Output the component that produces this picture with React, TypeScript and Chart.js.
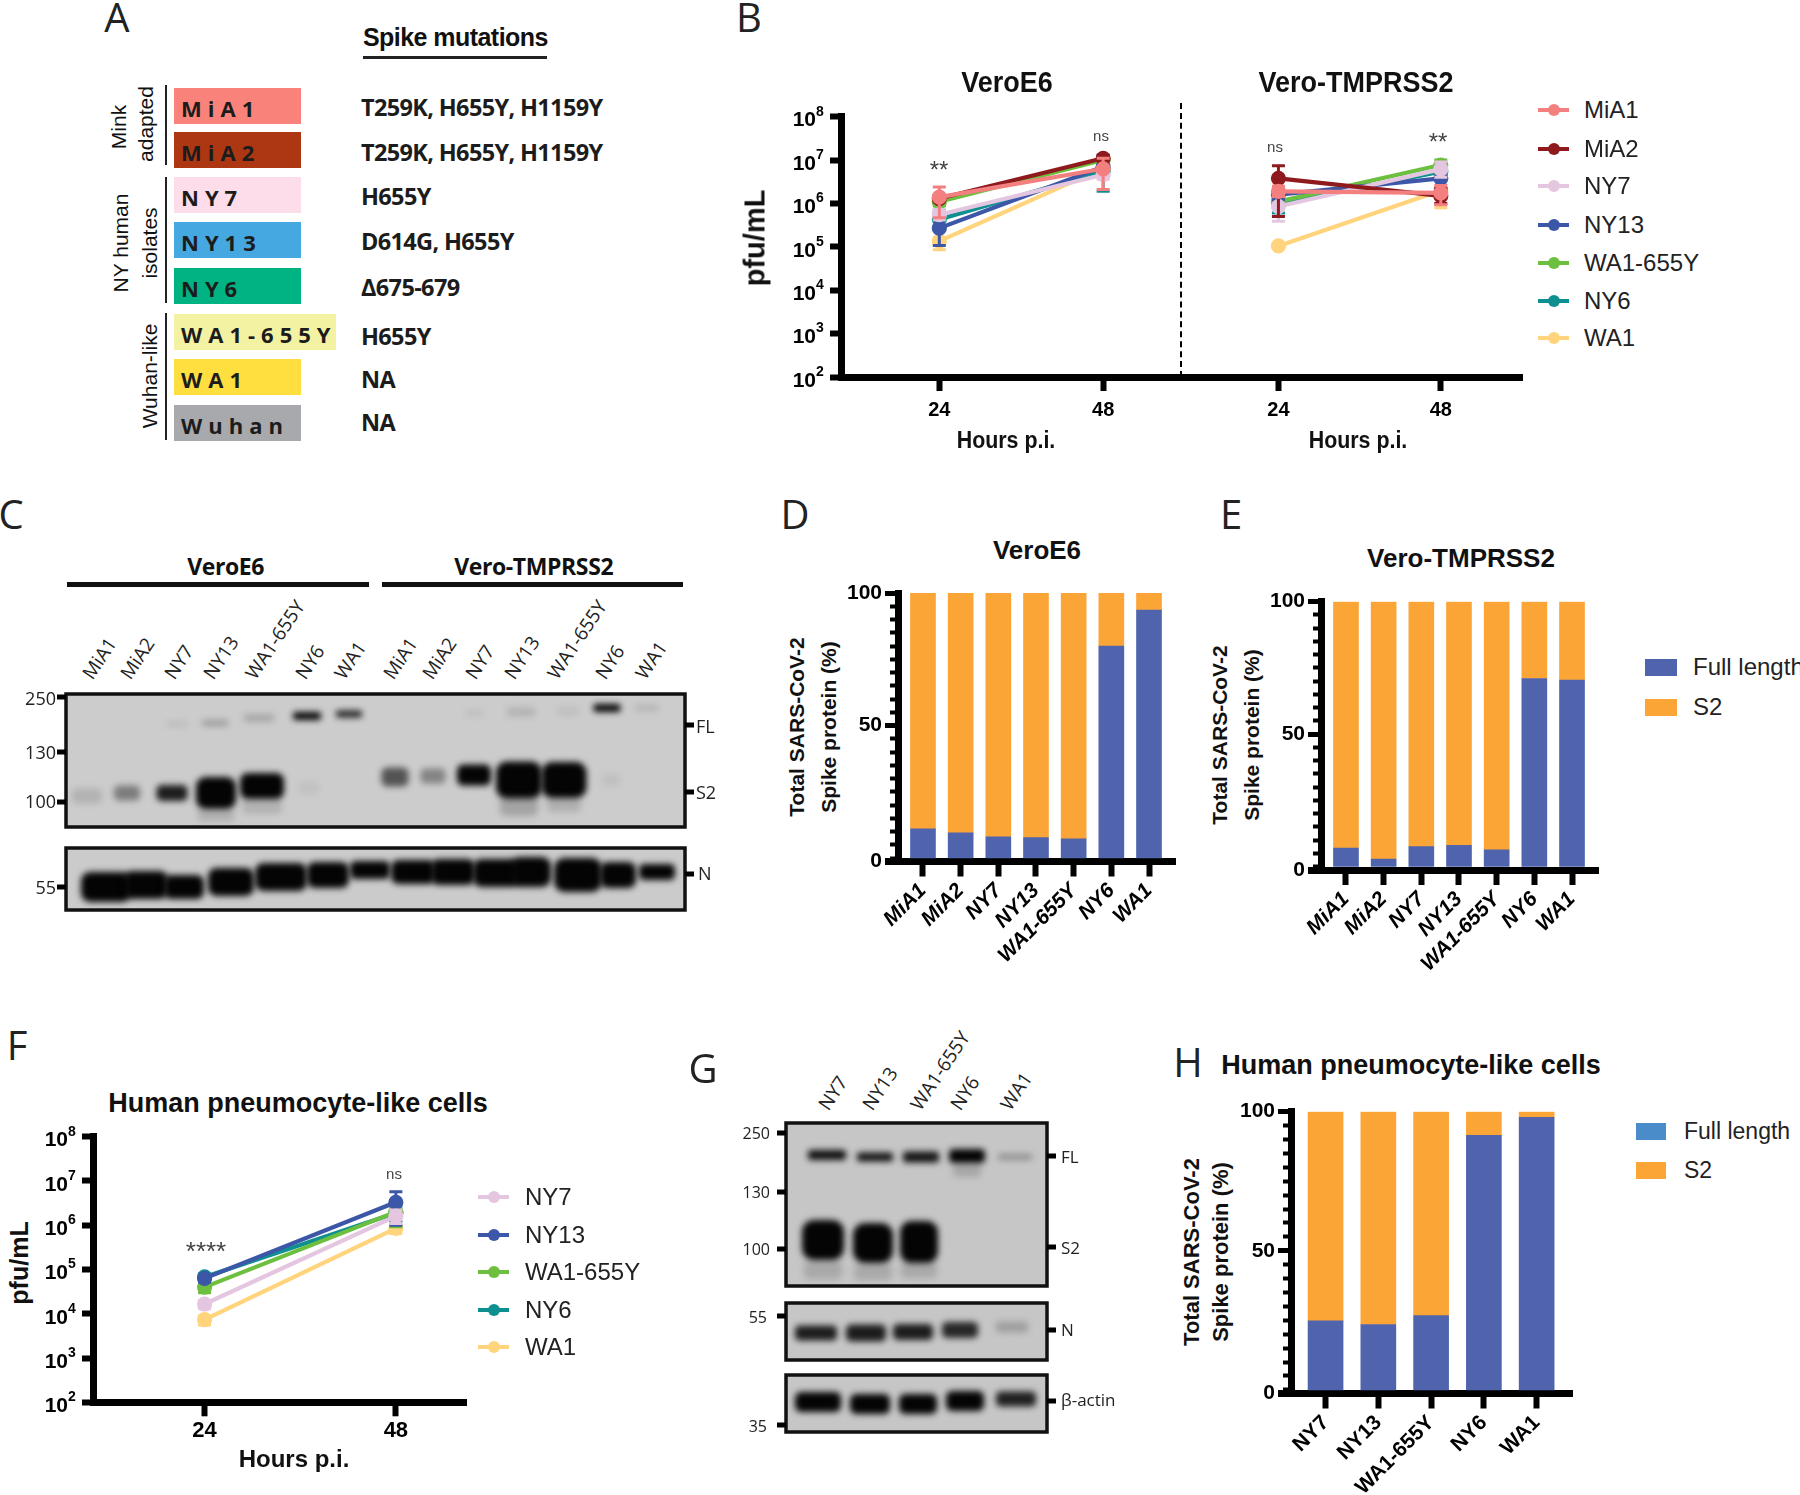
import React, { useEffect, useRef } from "react";
import { Chart, registerables } from "chart.js";
Chart.register(...registerables);

const SANS = '"Liberation Sans", Arial, sans-serif';
const OPEN = '"Open Sans", sans-serif';

// ---------- data ----------
const hours = [24, 48];
const decades = [1e2, 1e3, 1e4, 1e5, 1e6, 1e7, 1e8];
const strains = ["MiA1", "MiA2", "NY7", "NY13", "WA1-655Y", "NY6", "WA1"];
const strainColors = ["#f37f7f", "#8e1a1e", "#e5c6e0", "#3c56a8", "#6cbf3f", "#0f9090", "#ffd47c"];

const veroMean = [[1.4e6, 6.3e6], [1.3e6, 1.1e7], [5.5e5, 4.6e6], [2.7e5, 7e6], [1.1e6, 1e7], [4.3e5, 5.5e6], [1.35e5, 6.5e6]];
const veroLow = [[4.7e5, 2.1e6], [1.1e6, 6e6], [4.2e5, 3.6e6], [1.07e5, 4.3e6], [8.8e5, 8e6], [3e5, 1.9e6], [8.6e4, 5e6]];
const veroHigh = [[2.4e6, 1.1e7], [1.5e6, 1.3e7], [7e5, 6e6], [7e5, 1.3e7], [1.3e6, 1.2e7], [5.2e5, 1e7], [1.6e5, 8e6]];

const tmprssMean = [[1.9e6, 1.75e6], [3.8e6, 1.5e6], [8.5e5, 6.2e6], [1.6e6, 3.8e6], [1.1e6, 7.7e6], [1e6, 5.4e6], [1.05e5, 2e6]];
const tmprssLow = [[1.45e6, 9.3e5], [5e5, 1e6], [3.9e5, 4e6], [1.2e6, 2.2e6], [9e5, 5e6], [6e5, 2.1e6], [1.05e5, 8e5]];
const tmprssHigh = [[2.5e6, 2.6e6], [7.4e6, 2.2e6], [1.5e6, 9e6], [2e6, 6e6], [1.3e6, 1e7], [1.4e6, 8e6], [1.05e5, 2.5e6]];

const pneuStrains = ["NY7", "NY13", "WA1-655Y", "NY6", "WA1"];
const pneuColors = ["#e5c6e0", "#3c56a8", "#6cbf3f", "#0f9090", "#ffd47c"];
const pneuMean = [[1.66e4, 1.6e6], [6.3e4, 3.3e6], [4e4, 2e6], [6.8e4, 1.9e6], [7.4e3, 8.5e5]];
const pneuLow = [[1.3e4, 1.1e6], [5.2e4, 1e6], [3e4, 9.3e5], [5.6e4, 1.2e6], [5.6e3, 6.5e5]];
const pneuHigh = [[2e4, 2.2e6], [7.5e4, 5.7e6], [4.7e4, 3.1e6], [8e4, 2.6e6], [9e3, 1e6]];

const veroFull = [11, 9.5, 8, 7.7, 7.2, 80, 93.6];
const veroS2 = [89, 90.5, 92, 92.3, 92.8, 20, 6.4];
const tmprssFull = [7, 2.8, 7.5, 8, 6.3, 71, 70.4];
const tmprssS2 = [93, 97.2, 92.5, 92, 93.7, 29, 29.6];
const pneuFull = [24.8, 23.5, 26.7, 91.5, 98];
const pneuS2 = [75.2, 76.5, 73.3, 8.5, 2];

const FULL_COLOR = "#5064ae";
const S2_COLOR = "#fba536";

// Panel A table
const variantRows = [
  { name: "MiA1", fill: "#f9837a", mutation: "T259K, H655Y, H1159Y" },
  { name: "MiA2", fill: "#ae3713", mutation: "T259K, H655Y, H1159Y" },
  { name: "NY7", fill: "#fcdde9", mutation: "H655Y" },
  { name: "NY13", fill: "#45a8e0", mutation: "D614G, H655Y" },
  { name: "NY6", fill: "#00b383", mutation: "Δ675-679" },
  { name: "WA1-655Y", fill: "#f2f2a2", mutation: "H655Y" },
  { name: "WA1", fill: "#ffdf3f", mutation: "NA" },
  { name: "Wuhan", fill: "#a8a9ad", mutation: "NA" },
];
const rowTop = [88, 132, 177, 222, 268, 314, 359, 405];
const mutationY = [108, 153, 197, 242, 288, 337, 380, 423];

// Western blots: [x, y, width, height, density] in gel coordinates
type Band = number[];
const gelCSpike: Band[] = [
  [87, 796, 30, 15, 0.13], [127, 793, 26, 15, 0.4], [172, 793, 31, 16, 0.88], [216, 793, 40, 32, 1], [262, 786, 44, 26, 1], [309, 788, 20, 12, 0.05],
  [216, 815, 36, 12, 0.14], [262, 806, 40, 16, 0.12], [395, 777, 27, 19, 0.6], [433, 776, 25, 15, 0.36], [474, 775, 34, 21, 1],
  [519, 780, 46, 37, 1], [564, 780, 45, 36, 1], [519, 806, 38, 20, 0.2], [564, 804, 34, 16, 0.14], [611, 780, 18, 12, 0.06],
  [177, 724, 20, 5, 0.09], [215, 723, 26, 6, 0.24], [259, 718, 30, 7, 0.2], [307, 716, 28, 8, 1], [349, 714, 26, 7, 0.85],
  [474, 713, 18, 7, 0.06], [521, 712, 28, 9, 0.12], [568, 711, 22, 9, 0.06], [607, 708, 27, 8, 1], [647, 708, 24, 7, 0.1],
];
const gelCN: Band[] = [
  [106, 887, 50, 30, 1], [146, 885, 44, 28, 1], [184, 887, 40, 24, 1], [231, 882, 46, 28, 1], [281, 877, 52, 28, 1], [328, 875, 42, 26, 1], [370, 870, 40, 18, 1],
  [413, 872, 44, 24, 1], [453, 872, 44, 26, 1], [496, 873, 46, 28, 1], [531, 872, 40, 30, 1], [578, 875, 48, 34, 1], [618, 875, 36, 26, 1], [657, 872, 36, 16, 1],
];
const gelGSpike: Band[] = [
  [827, 1155, 38, 10, 0.95], [875, 1157, 36, 9, 0.92], [921, 1157, 36, 11, 0.92], [967, 1156, 36, 14, 1], [1015, 1157, 34, 6, 0.28],
  [967, 1170, 28, 14, 0.16], [823, 1240, 42, 40, 1], [873, 1243, 40, 40, 1], [919, 1242, 38, 42, 1],
  [823, 1270, 38, 18, 0.15], [873, 1272, 38, 16, 0.15], [919, 1270, 36, 16, 0.15],
];
const gelGN: Band[] = [
  [816, 1333, 42, 15, 0.88], [866, 1333, 40, 17, 0.88], [913, 1332, 40, 16, 0.88], [960, 1330, 36, 16, 0.82], [1012, 1327, 32, 11, 0.2],
];
const gelGActin: Band[] = [
  [818, 1402, 46, 20, 1], [870, 1404, 40, 20, 1], [918, 1404, 38, 20, 1], [965, 1401, 38, 20, 1], [1016, 1399, 40, 15, 0.85],
];

// ---------- plugins ----------
const errorBars = {
  id: "errorBars",
  beforeDatasetDraw(chart: any, args: any) {
    const ds = chart.data.datasets[args.index];
    if (!ds.errLow) return;
    const { x, y } = chart.scales;
    const ctx = chart.ctx;
    ctx.save();
    ctx.strokeStyle = ds.borderColor;
    ctx.lineWidth = 3;
    ds.data.forEach((p: any, i: number) => {
      const px = x.getPixelForValue(p.x);
      const lo = y.getPixelForValue(ds.errLow[i]);
      const hi = y.getPixelForValue(ds.errHigh[i]);
      ctx.beginPath();
      ctx.moveTo(px, lo); ctx.lineTo(px, hi);
      ctx.moveTo(px - 6.5, lo); ctx.lineTo(px + 6.5, lo);
      ctx.moveTo(px - 6.5, hi); ctx.lineTo(px + 6.5, hi);
      ctx.stroke();
    });
    ctx.restore();
  },
};

const powerLabels = {
  id: "powerLabels",
  afterDraw(chart: any) {
    const y = chart.scales.y;
    if (!y.options.display) return;
    const ctx = chart.ctx;
    ctx.save();
    ctx.fillStyle = "#000";
    decades.forEach((v) => {
      const py = y.getPixelForValue(v);
      const right = y.right - 25;
      ctx.textBaseline = "middle";
      ctx.textAlign = "right";
      ctx.font = `bold 21px ${SANS}`;
      ctx.fillText("10", right, py + 4);
      ctx.textAlign = "left";
      ctx.font = `bold 14px ${SANS}`;
      ctx.fillText(String(Math.round(Math.log10(v))), right, py - 5);
    });
    ctx.restore();
  },
};

const gelPlugin = {
  id: "gel",
  beforeDatasetsDraw(chart: any) {
    const { x, y } = chart.scales;
    const ctx = chart.ctx;
    chart.data.datasets.forEach((ds: any) => {
      const [fx0, fy0, fx1, fy1] = ds.frame.map((v: number, i: number) => (i % 2 ? y : x).getPixelForValue(v));
      ctx.save();
      ctx.fillStyle = ds.gelColor;
      ctx.fillRect(fx0, fy0, fx1 - fx0, fy1 - fy0);
      ctx.beginPath();
      ctx.rect(fx0, fy0, fx1 - fx0, fy1 - fy0);
      ctx.clip();
      ctx.filter = "blur(3.4px)";
      ds.data.forEach((b: any) => {
        const cx = x.getPixelForValue(b.x);
        const cy = y.getPixelForValue(b.y);
        const w = x.getPixelForValue(b.x + b.w) - cx;
        const h = y.getPixelForValue(b.y + b.h) - cy;
        ctx.fillStyle = `rgba(4,4,4,${b.a})`;
        ctx.beginPath();
        ctx.roundRect(cx - w / 2, cy - h / 2, w, h, Math.min(w, h) * 0.3);
        ctx.fill();
      });
      ctx.restore();
      ctx.save();
      ctx.strokeStyle = "#111";
      ctx.lineWidth = 3.5;
      ctx.strokeRect(fx0, fy0, fx1 - fx0, fy1 - fy0);
      ctx.fillStyle = "#000";
      ds.ticks.forEach(([side, v]: number[]) => {
        const ty = y.getPixelForValue(v);
        if (side < 0) ctx.fillRect(fx0 - 9, ty - 2.5, 9, 5);
        else ctx.fillRect(fx1, ty - 2.5, 9, 5);
      });
      ctx.restore();
    });
  },
};

// ---------- chart configs ----------
type Box = { l: number; t: number; w: number; h: number };
type Area = { left: number; top: number; right: number; bottom: number };

const sideGap = (b: Box, a: Area) => ({ left: a.left - b.l, top: a.top - b.t, right: b.l + b.w - a.right, bottom: b.t + b.h - a.bottom });
const fixSize = (s: any, prop: "width" | "height", v: number) => { s[prop] = v; s.paddingLeft = s.paddingRight = s.paddingTop = s.paddingBottom = 0; };

function lineConfig(box: Box, area: Area, xMin: number, xMax: number, names: string[], colors: string[], mean: number[][], low: number[][], high: number[][], showY: boolean, tickFont: number, labelGap: number): any {
  const gap = sideGap(box, area);
  return {
    type: "line",
    data: {
      datasets: names.map((n, i) => ({
        label: n,
        data: mean[i].map((v, j) => ({ x: hours[j], y: v })),
        errLow: low[i],
        errHigh: high[i],
        borderColor: colors[i],
        backgroundColor: colors[i],
        borderWidth: 4.2,
        pointRadius: 5.5,
        pointHoverRadius: 5.5,
        tension: 0,
        clip: false,
      })),
    },
    plugins: [errorBars, powerLabels],
    options: {
      animation: false,
      responsive: false,
      layout: { autoPadding: false, padding: { left: showY ? 0 : gap.left, top: gap.top, right: gap.right, bottom: 0 } },
      plugins: { legend: { display: false }, title: { display: false }, tooltip: { enabled: false } },
      scales: {
        x: {
          type: "linear", min: xMin, max: xMax,
          afterBuildTicks: (s: any) => { s.ticks = hours.map((v) => ({ value: v })); },
          afterFit: (s: any) => fixSize(s, "height", gap.bottom),
          grid: { drawOnChartArea: false, tickLength: 14, tickWidth: 6, tickColor: "#000" },
          border: { display: true, width: 7, color: "#000" },
          ticks: { color: "#000", padding: labelGap, font: { family: SANS, size: tickFont, weight: "bold" }, autoSkip: false, maxRotation: 0 },
        },
        y: {
          type: "logarithmic", min: 1e2, max: 1e8, display: showY,
          afterBuildTicks: (s: any) => { s.ticks = decades.map((v) => ({ value: v })); },
          afterFit: (s: any) => fixSize(s, "width", gap.left),
          grid: { drawOnChartArea: false, tickLength: 11, tickWidth: 6, tickColor: "#000" },
          border: { display: true, width: 7, color: "#000" },
          ticks: { callback: () => "", padding: 0 },
        },
      },
    },
  };
}

const BAR_FLOOR = -1.32;
const minorSteps = Array.from({ length: 21 }, (_, i) => i * 5);

function barConfig(box: Box, area: Area, xMin: number, xMax: number, cats: string[], full: number[], s2: number[], thickness: number, italic: boolean): any {
  const gap = sideGap(box, area);
  return {
    type: "bar",
    data: {
      datasets: [
        { label: "Full length", data: full.map((v, i) => ({ x: i, y: v })), backgroundColor: FULL_COLOR, barThickness: thickness, stack: "a" },
        { label: "S2", data: s2.map((v, i) => ({ x: i, y: v })), backgroundColor: S2_COLOR, barThickness: thickness, stack: "a" },
      ],
    },
    options: {
      animation: false,
      responsive: false,
      layout: { autoPadding: false, padding: { left: 0, top: gap.top, right: gap.right, bottom: 0 } },
      plugins: { legend: { display: false }, title: { display: false }, tooltip: { enabled: false } },
      scales: {
        x: {
          type: "linear", stacked: true, min: xMin, max: xMax, offset: false,
          afterBuildTicks: (s: any) => { s.ticks = cats.map((_, i) => ({ value: i })); },
          afterFit: (s: any) => fixSize(s, "height", gap.bottom),
          grid: { offset: false, drawOnChartArea: false, tickLength: 15, tickWidth: 6, tickColor: "#000" },
          border: { display: true, width: 7, color: "#000" },
          ticks: {
            callback: (v: number) => cats[v], color: "#000", padding: 2, autoSkip: false, minRotation: 45, maxRotation: 45,
            font: { family: SANS, size: 21, weight: "bold", style: italic ? "italic" : "normal" },
          },
        },
        y: {
          type: "linear", stacked: true, min: BAR_FLOOR, max: 100, weight: 0,
          afterBuildTicks: (s: any) => { s.ticks = [BAR_FLOOR, 50, 100].map((v) => ({ value: v })); },
          afterFit: (s: any) => fixSize(s, "width", gap.left),
          grid: { drawOnChartArea: false, tickLength: 13, tickWidth: (c: any) => (c.index === 0 ? 7 : 5), tickColor: "#000" },
          border: { display: true, width: 7, color: "#000" },
          ticks: {
            callback: (_: number, i: number) => ["0", "50", "100"][i], color: "#000", padding: 3,
            font: { family: SANS, size: 21, weight: "bold" },
          },
        },
        yMinor: {
          type: "linear", min: BAR_FLOOR, max: 100, position: "left", weight: -1,
          afterBuildTicks: (s: any) => { s.ticks = minorSteps.map((v) => ({ value: v })); },
          afterFit: (s: any) => fixSize(s, "width", 0),
          grid: { drawOnChartArea: false, tickLength: 8, tickWidth: 4, tickColor: "#000" },
          border: { display: false },
          ticks: { display: false },
        },
      },
    },
  };
}

function gelConfig(box: Box, gels: { bands: Band[]; frame: number[]; color: string; ticks: number[][] }[]): any {
  return {
    type: "scatter",
    data: {
      datasets: gels.map((g) => ({
        data: g.bands.map(([x, y, w, h, a]) => ({ x, y, w, h, a })),
        frame: g.frame, gelColor: g.color, ticks: g.ticks, pointRadius: 0,
      })),
    },
    plugins: [gelPlugin],
    options: {
      animation: false,
      responsive: false,
      parsing: false,
      layout: { autoPadding: false },
      plugins: { legend: { display: false }, tooltip: { enabled: false } },
      scales: {
        x: { type: "linear", display: false, min: box.l, max: box.l + box.w },
        y: { type: "linear", display: false, min: box.t, max: box.t + box.h, reverse: true },
      },
    },
  };
}

// ---------- components ----------
function ChartBox({ box, config }: { box: Box; config: () => any }) {
  const ref = useRef<HTMLCanvasElement>(null);
  useEffect(() => {
    const c = new Chart(ref.current as HTMLCanvasElement, config());
    return () => c.destroy();
  }, []);
  return <canvas ref={ref} width={box.w} height={box.h} style={{ position: "absolute", left: box.l, top: box.t, width: box.w, height: box.h, display: "block" }} />;
}

function T({ x, y, s, w = 400, f = SANS, r = 0, a = "c", c = "#111", ls, sx = 1, it, children }: any) {
  const shift = a === "c" ? "translate(-50%,-50%)" : a === "r" ? "translate(-100%,-50%)" : "translate(0,-50%)";
  return (
    <div style={{
      position: "absolute", left: x, top: y, fontSize: s, fontWeight: w, fontFamily: f, color: c, letterSpacing: ls, fontStyle: it ? "italic" : "normal",
      lineHeight: 1, whiteSpace: "nowrap", transform: `${shift} rotate(${r}deg) scaleX(${sx})`, transformOrigin: a === "l" ? "0 50%" : "50% 50%",
    }}>{children}</div>
  );
}

function Rect({ x, y, w, h, c }: any) {
  return <div style={{ position: "absolute", left: x, top: y, width: w, height: h, background: c }} />;
}

function LegendLine({ x, y, c, name, s = 24, tx = 46 }: any) {
  return (
    <>
      <Rect x={x} y={y - 2} w={31} h={4} c={c} />
      <div style={{ position: "absolute", left: x + 9.5, top: y - 6, width: 12, height: 12, borderRadius: 6, background: c }} />
      <T x={x + tx} y={y} s={s} a="l" c="#222">{name}</T>
    </>
  );
}

const PanelLetter = ({ x, y, children }: any) => <T x={x} y={y} s={40} f={OPEN} c="#222">{children}</T>;

const veroBox = { l: 740, t: 90, w: 441, h: 340 };
const veroArea = { left: 841, top: 116.7, right: 1181, bottom: 377 };
const tmpBox = { l: 1181, t: 90, w: 345, h: 340 };
const tmpArea = { left: 1181, top: 116.7, right: 1522, bottom: 377 };
const pneuBox = { l: 20, t: 1120, w: 450, h: 330 };
const pneuArea = { left: 93, top: 1136.7, right: 466, bottom: 1402.3 };
const dBox = { l: 840, t: 580, w: 340, h: 400 };
const dArea = { left: 898, top: 593, right: 1175, bottom: 861.5 };
const eBox = { l: 1263, t: 590, w: 340, h: 400 };
const eArea = { left: 1321, top: 601.7, right: 1598, bottom: 870 };
const hBox = { l: 1230, t: 1100, w: 350, h: 395 };
const hArea = { left: 1291, top: 1111.7, right: 1572, bottom: 1393.5 };
const cBox = { l: 40, t: 685, w: 670, h: 235 };
const gBox = { l: 765, t: 1115, w: 300, h: 325 };

const cLanes = [
  [87, "MiA1"], [125, "MiA2"], [169, "NY7"], [208, "NY13"], [250, "WA1-655Y"], [300, "NY6"], [339, "WA1"],
  [388, "MiA1"], [427, "MiA2"], [470, "NY7"], [509, "NY13"], [552, "WA1-655Y"], [600, "NY6"], [640, "WA1"],
];
const gLanes = [[823, "NY7"], [867, "NY13"], [915, "WA1-655Y"], [955, "NY6"], [1005, "WA1"]];

export default function App() {
  return (
    <div style={{ position: "absolute", left: 0, top: 0, width: 1800, height: 1495, background: "#fff", overflow: "hidden" }}>
      <style>{`html,body{margin:0;background:#fff}`}</style>

      {/* A */}
      <PanelLetter x={117} y={17}>A</PanelLetter>
      <T x={363} y={37} s={25} w={700} a="l" ls="-0.55px">Spike mutations</T>
      <Rect x={363} y={55.5} w={184} h={3} c="#222" />
      {variantRows.map((row, i) => (
        <React.Fragment key={row.name}>
          <Rect x={174} y={rowTop[i]} w={row.name === "WA1-655Y" ? 162 : 127} h={36} c={row.fill} />
          <T x={181} y={rowTop[i] + 20} s={22} w={700} f={OPEN} a="l" ls="6px" c="#1c1c1c">{row.name}</T>
          <T x={361} y={mutationY[i]} s={23.5} w={700} f={OPEN} a="l" ls="-0.65px" c="#1c1c1c">{row.mutation}</T>
        </React.Fragment>
      ))}
      <Rect x={164.5} y={85} w={2.5} h={80} c="#222" />
      <Rect x={164.5} y={177} w={2.5} h={126} c="#222" />
      <Rect x={164.5} y={313} w={2.5} h={127} c="#222" />
      <T x={118} y={127} s={21} r={-90}>Mink</T>
      <T x={145} y={124} s={21} r={-90}>adapted</T>
      <T x={120} y={243} s={21} r={-90}>NY human</T>
      <T x={149} y={243} s={21} r={-90}>isolates</T>
      <T x={149} y={376} s={21} r={-90}>Wuhan-like</T>

      {/* B */}
      <PanelLetter x={749} y={17}>B</PanelLetter>
      <ChartBox box={tmpBox} config={() => lineConfig(tmpBox, tmpArea, 9.6, 60, strains, strainColors, tmprssMean, tmprssLow, tmprssHigh, false, 20, 7)} />
      <ChartBox box={veroBox} config={() => lineConfig(veroBox, veroArea, 9.6, 59.4, strains, strainColors, veroMean, veroLow, veroHigh, true, 20, 7)} />
      <div style={{ position: "absolute", left: 1179.5, top: 103, height: 274, width: 0, borderLeft: "2.5px dashed #000" }} />
      <T x={1007} y={82} s={29} w={700} sx={0.93}>VeroE6</T>
      <T x={1356} y={82} s={29} w={700} sx={0.93}>Vero-TMPRSS2</T>
      <T x={755} y={238} s={29} w={700} r={-90}>pfu/mL</T>
      <T x={1006} y={440} s={23} w={700} sx={0.93}>Hours p.i.</T>
      <T x={1358} y={440} s={23} w={700} sx={0.93}>Hours p.i.</T>
      <T x={939} y={170} s={24} c="#444">**</T>
      <T x={1101} y={135} s={15} c="#444">ns</T>
      <T x={1275} y={146} s={15} c="#444">ns</T>
      <T x={1438} y={142} s={24} c="#444">**</T>
      {strains.map((n, i) => (
        <LegendLine key={n} x={1538} y={[110, 149, 186, 225, 263, 301, 338][i]} c={strainColors[i]} name={n} />
      ))}

      {/* C */}
      <PanelLetter x={11} y={514}>C</PanelLetter>
      <T x={225.6} y={566} s={23} w={700} f={OPEN} ls="-0.4px">VeroE6</T>
      <T x={533.7} y={566} s={23} w={700} f={OPEN} ls="-0.4px">Vero-TMPRSS2</T>
      <Rect x={67} y={581.5} w={302} h={5} c="#111" />
      <Rect x={382} y={581.5} w={301} h={5} c="#111" />
      {cLanes.map(([x, n], i) => (
        <T key={i} x={(x as number)} y={677} s={19} f={OPEN} a="l" r={-56} c="#222">{n}</T>
      ))}
      <ChartBox box={cBox} config={() => gelConfig(cBox, [
        { bands: gelCSpike, frame: [66, 694, 685, 827], color: "#cccccc", ticks: [[-1, 697], [-1, 752], [-1, 802], [1, 725], [1, 792]] },
        { bands: gelCN, frame: [66, 848, 685, 910], color: "#cbcbcb", ticks: [[-1, 887], [1, 874]] },
      ])} />
      <T x={56} y={698} s={18} f={OPEN} a="r" c="#222">250</T>
      <T x={56} y={752} s={18} f={OPEN} a="r" c="#222">130</T>
      <T x={56} y={801} s={18} f={OPEN} a="r" c="#222">100</T>
      <T x={56} y={887} s={18} f={OPEN} a="r" c="#222">55</T>
      <T x={696} y={726} s={18} f={OPEN} a="l" c="#222">FL</T>
      <T x={696} y={792} s={18} f={OPEN} a="l" c="#222">S2</T>
      <T x={698} y={873} s={18} f={OPEN} a="l" c="#222">N</T>

      {/* D */}
      <PanelLetter x={795} y={514}>D</PanelLetter>
      <T x={1037} y={550} s={26} w={700}>VeroE6</T>
      <T x={796} y={727} s={21} w={700} r={-90}>Total SARS-CoV-2</T>
      <T x={828} y={727} s={21} w={700} r={-90}>Spike protein (%)</T>
      <ChartBox box={dBox} config={() => barConfig(dBox, dArea, -0.663, 6.69, strains, veroFull, veroS2, 25, true)} />

      {/* E */}
      <PanelLetter x={1231} y={514}>E</PanelLetter>
      <T x={1461} y={558} s={26} w={700}>Vero-TMPRSS2</T>
      <T x={1219} y={735} s={21} w={700} r={-90}>Total SARS-CoV-2</T>
      <T x={1251} y={735} s={21} w={700} r={-90}>Spike protein (%)</T>
      <ChartBox box={eBox} config={() => barConfig(eBox, eArea, -0.663, 6.69, strains, tmprssFull, tmprssS2, 25, true)} />
      <Rect x={1645} y={659} w={32} h={17} c={FULL_COLOR} />
      <T x={1693} y={667} s={24} a="l" c="#222">Full length</T>
      <Rect x={1645} y={699} w={32} h={17} c={S2_COLOR} />
      <T x={1693} y={707} s={24} a="l" c="#222">S2</T>

      {/* F */}
      <PanelLetter x={17} y={1045}>F</PanelLetter>
      <T x={298} y={1103} s={27} w={700}>Human pneumocyte-like cells</T>
      <T x={19} y={1263} s={25} w={700} r={-90}>pfu/mL</T>
      <ChartBox box={pneuBox} config={() => lineConfig(pneuBox, pneuArea, 10, 56.8, pneuStrains, pneuColors, pneuMean, pneuLow, pneuHigh, true, 22, 1)} />
      <T x={294} y={1459} s={24} w={700}>Hours p.i.</T>
      <T x={206} y={1251} s={26} c="#444">****</T>
      <T x={394} y={1173} s={15} c="#444">ns</T>
      {pneuStrains.map((n, i) => (
        <LegendLine key={n} x={478} y={[1197, 1235, 1272, 1310, 1347][i]} c={pneuColors[i]} name={n} tx={47} />
      ))}

      {/* G */}
      <PanelLetter x={703} y={1068}>G</PanelLetter>
      {gLanes.map(([x, n], i) => (
        <T key={i} x={x} y={1108} s={19} f={OPEN} a="l" r={-56} c="#222">{n}</T>
      ))}
      <ChartBox box={gBox} config={() => gelConfig(gBox, [
        { bands: gelGSpike, frame: [786, 1123, 1047, 1286], color: "#c6c6c6", ticks: [[-1, 1133], [-1, 1192], [-1, 1249], [1, 1156], [1, 1247]] },
        { bands: gelGN, frame: [786, 1303, 1047, 1360], color: "#c6c6c6", ticks: [[-1, 1316], [1, 1330]] },
        { bands: gelGActin, frame: [786, 1375, 1047, 1432], color: "#c6c6c6", ticks: [[-1, 1425], [1, 1401]] },
      ])} />
      <T x={770} y={1133} s={16} f={OPEN} a="r" c="#222">250</T>
      <T x={770} y={1192} s={16} f={OPEN} a="r" c="#222">130</T>
      <T x={770} y={1249} s={16} f={OPEN} a="r" c="#222">100</T>
      <T x={767} y={1317} s={16} f={OPEN} a="r" c="#222">55</T>
      <T x={767} y={1426} s={16} f={OPEN} a="r" c="#222">35</T>
      <T x={1061} y={1156} s={17} f={OPEN} a="l" c="#222">FL</T>
      <T x={1061} y={1247} s={17} f={OPEN} a="l" c="#222">S2</T>
      <T x={1061} y={1329} s={17} f={OPEN} a="l" c="#222">N</T>
      <T x={1061} y={1399} s={17} f={OPEN} a="l" c="#222">β-actin</T>

      {/* H */}
      <PanelLetter x={1188} y={1062}>H</PanelLetter>
      <T x={1411} y={1065} s={27} w={700}>Human pneumocyte-like cells</T>
      <T x={1192} y={1252} s={22} w={700} r={-90}>Total SARS-CoV-2</T>
      <T x={1221} y={1252} s={22} w={700} r={-90}>Spike protein (%)</T>
      <ChartBox box={hBox} config={() => barConfig(hBox, hArea, -0.655, 4.67, pneuStrains, pneuFull, pneuS2, 35, false)} />
      <Rect x={1636} y={1123} w={30} h={17} c="#4a8bc9" />
      <T x={1684} y={1131} s={23} a="l" c="#222">Full length</T>
      <Rect x={1636} y={1162} w={30} h={17} c={S2_COLOR} />
      <T x={1684} y={1170} s={23} a="l" c="#222">S2</T>
    </div>
  );
}
